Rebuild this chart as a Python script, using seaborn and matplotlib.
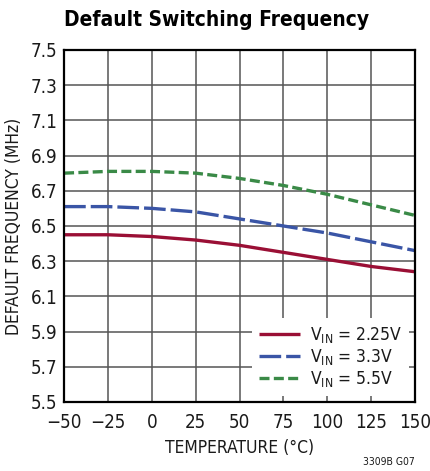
import pandas as pd
import numpy as np
import seaborn as sns
import matplotlib.pyplot as plt

# valores
temperatura = [-50, -25, 0, 25, 50, 75, 100, 125, 150]
f_225 = [6.45, 6.45, 6.44, 6.42, 6.39, 6.35, 6.31, 6.27, 6.24]
f_33 = [6.61, 6.61, 6.60, 6.58, 6.54, 6.50, 6.46, 6.41, 6.36]
f_55 = [6.80, 6.81, 6.81, 6.80, 6.77, 6.73, 6.68, 6.62, 6.56]
etiquetas = ["V$_{\\mathregular{IN}}$ = 2.25V", "V$_{\\mathregular{IN}}$ = 3.3V", "V$_{\\mathregular{IN}}$ = 5.5V"]

sns.set_style("white")
plt.rcParams["font.family"] = ["DejaVu Sans"]
plt.rcParams["font.stretch"] = "condensed"
plt.rcParams["mathtext.fontset"] = "custom"
plt.rcParams["mathtext.rm"] = "DejaVu Sans:stretch=condensed"
for k in ["text.color", "axes.labelcolor", "xtick.color", "ytick.color"]:
    plt.rcParams[k] = "#1a1a1a"

datos = pd.DataFrame({
    "temp": temperatura * 3,
    "freq": f_225 + f_33 + f_55,
    "serie": [etiquetas[0]] * 9 + [etiquetas[1]] * 9 + [etiquetas[2]] * 9,
})

fig = plt.figure(figsize=(4.3, 4.71), dpi=100)
ax = fig.add_axes([0.149, 0.1465, 0.816, 0.7475])

colores = {etiquetas[0]: "#9a0f35", etiquetas[1]: "#3a55a6", etiquetas[2]: "#3a8a47"}
sns.lineplot(data=datos, x="temp", y="freq", hue="serie", palette=colores, ax=ax, lw=2.4)
estilos = [(0, ()), (0, (6.5, 1.5)), (0, (3.0, 1.3))]
for linea, st in zip(ax.get_lines(), estilos):
    linea.set_linestyle(st)
    linea.set_dash_capstyle("butt")

ax.set_xlim(-50, 150)
ax.set_ylim(5.5, 7.5)
ax.set_xticks(range(-50, 151, 25))
ax.set_xticklabels(["\u221250", "\u221225", "0", "25", "50", "75", "100", "125", "150"])
ax.set_yticks(np.arange(5.5, 7.51, 0.2))
ax.set_yticklabels([f"{v:.1f}" for v in np.arange(5.5, 7.51, 0.2)])
ax.grid(True, color="#555555", lw=1.1)
for s in ax.spines.values():
    s.set_color("black")
    s.set_linewidth(1.6)
ax.tick_params(labelsize=13.5, length=0, pad=5)
ax.tick_params(axis="x", pad=8)
ax.set_xlabel("TEMPERATURE (°C)", fontsize=12.5, labelpad=5)
ax.set_ylabel("DEFAULT FREQUENCY (MHz)", fontsize=12.5, labelpad=5)
fig.suptitle("Default Switching Frequency", x=0.503, y=0.978, va="top",
             fontsize=15, fontweight="bold", color="black")

handles, labels = ax.get_legend_handles_labels()
leg = ax.legend(handles, labels, loc="lower right", fontsize=12.5, frameon=True,
                fancybox=False, edgecolor="none", framealpha=1, handlelength=2.4,
                labelspacing=0.12, borderaxespad=0.35, handletextpad=0.55)
for lh, st in zip(leg.get_lines(), estilos):
    lh.set_linestyle(st)
    lh.set_dash_capstyle("butt")

fig.text(0.965, 0.008, "3309B G07", fontsize=7.5, ha="right", va="bottom")
fig.savefig("out.png", dpi=100)
